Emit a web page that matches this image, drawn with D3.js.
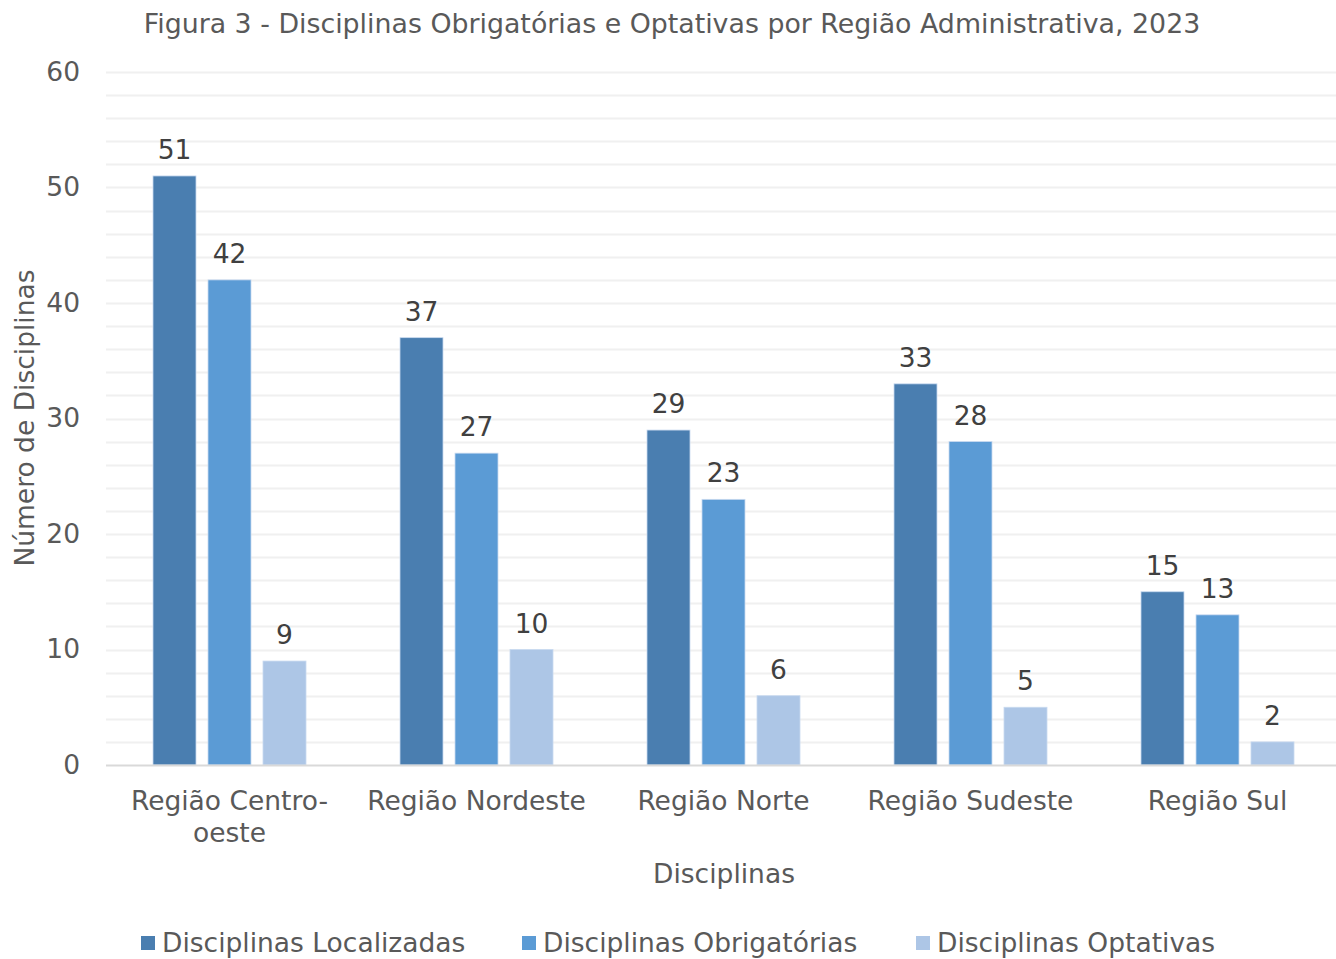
<!DOCTYPE html>
<html><head><meta charset="utf-8">
<script src="https://cdn.jsdelivr.net/npm/d3@7"></script>
<style>body{margin:0;background:#fff}svg{display:block;font-family:"DejaVu Sans",Verdana,sans-serif}</style>
</head><body><svg id="c" width="1336" height="959"></svg>
<script>
const categories = ["Região Centro-oeste","Região Nordeste","Região Norte","Região Sudeste","Região Sul"];
const categoryLines = [["Região Centro-","oeste"],["Região Nordeste"],["Região Norte"],["Região Sudeste"],["Região Sul"]];
const seriesNames = ["Disciplinas Localizadas","Disciplinas Obrigatórias","Disciplinas Optativas"];
const localizadas = [51,37,29,33,15];
const obrigatorias = [42,27,23,28,13];
const optativas = [9,10,6,5,2];
const yTicks = [0,10,20,30,40,50,60];
const colors = ["#4a7eb0","#5b9bd5","#adc6e6"];

(function(){
const FS = 26.5;
const series = [localizadas, obrigatorias, optativas];
const svg = d3.select("#c");
const mL = 106, mR = 1336, mT = 72, mB = 765;
const x = d3.scaleBand().domain(categories).range([mL,mL+5*247]).paddingInner(0).paddingOuter(0);
const y = d3.scaleLinear().domain([0,60]).range([mB,mT]);
const inner = d3.scaleBand().domain([0,1,2]).range([0,153]).paddingInner(12/55);

svg.append("g").selectAll("line").data(d3.range(2,61,2)).join("line")
  .attr("x1",mL).attr("x2",mR).attr("y1",d=>Math.round(y(d))+0.5).attr("y2",d=>Math.round(y(d))+0.5)
  .attr("stroke","#f0f0f0").attr("stroke-width",2);

const ya = svg.append("g").attr("transform",`translate(${mL},0)`).call(d3.axisLeft(y).tickValues(yTicks).tickSize(0).tickPadding(26));
ya.select(".domain").remove();
ya.selectAll("text").attr("font-size",FS).attr("fill","#595959").attr("font-family","DejaVu Sans");

const groups = svg.append("g").selectAll("g").data(categories).join("g")
  .attr("transform",c=>`translate(${x(c)+x.bandwidth()/2-76.5},0)`);
groups.each(function(c,i){
  const g = d3.select(this);
  series.forEach((s,k)=>{
    g.append("rect").attr("x",inner(k)).attr("width",inner.bandwidth())
      .attr("y",y(s[i])).attr("height",y(0)-y(s[i]))
      .attr("fill",colors[k]).attr("stroke","#c9daf0").attr("stroke-width",0.8);
    g.append("text").attr("x",inner(k)+inner.bandwidth()/2).attr("y",y(s[i])-17)
      .attr("text-anchor","middle").attr("font-size",FS).attr("fill","#404040").text(s[i]);
  });
});

svg.append("line").attr("x1",mL).attr("x2",mR).attr("y1",765.5).attr("y2",765.5).attr("stroke","#d9d9d9").attr("stroke-width",2);

svg.append("g").selectAll("text").data(categories).join("text")
  .attr("x",c=>x(c)+x.bandwidth()/2).attr("y",810).attr("text-anchor","middle")
  .attr("font-size",FS).attr("fill","#595959")
  .each(function(c,i){
    const t=d3.select(this);
    categoryLines[i].forEach((ln,j)=>t.append("tspan").attr("x",x(c)+x.bandwidth()/2).attr("dy",j?32:0).text(ln));
  });

svg.append("text").attr("x",672).attr("y",33).attr("text-anchor","middle").attr("font-size",26.8).attr("fill","#595959")
  .text("Figura 3 - Disciplinas Obrigatórias e Optativas por Região Administrativa, 2023");
svg.append("text").attr("x",724).attr("y",883).attr("text-anchor","middle").attr("font-size",FS).attr("fill","#595959").text("Disciplinas");
svg.append("text").attr("transform","translate(34,418) rotate(-90)").attr("text-anchor","middle").attr("font-size",FS).attr("fill","#595959").text("Número de Disciplinas");

const legX = [141,522,916];
const lg = svg.append("g").selectAll("g").data(seriesNames).join("g").attr("transform",(d,i)=>`translate(${legX[i]},0)`);
lg.append("rect").attr("x",0).attr("y",936).attr("width",14).attr("height",14).attr("fill",(d,i)=>colors[i]);
lg.append("text").attr("x",21).attr("y",952).attr("font-size",FS).attr("fill","#595959").text(d=>d);
})();
</script></body></html>
